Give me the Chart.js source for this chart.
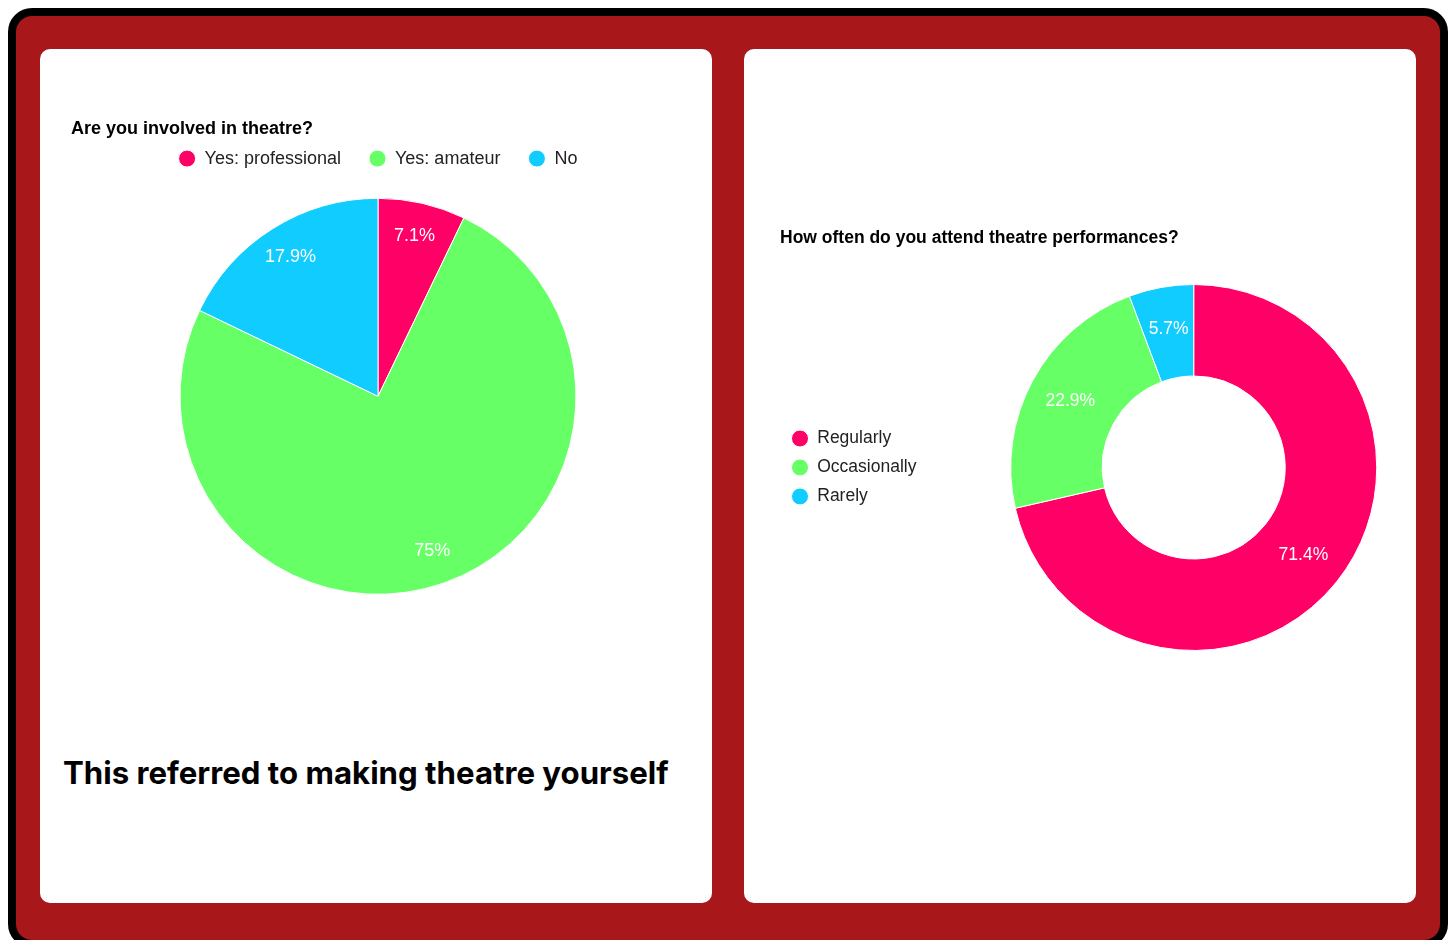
<!DOCTYPE html>
<html>
<head>
<meta charset="utf-8">
<title>Theatre survey</title>
<script src="https://cdn.jsdelivr.net/npm/chart.js@4.4.1/dist/chart.umd.min.js"></script>
<style>
    html, body { margin: 0; padding: 0; background: #fff; overflow: hidden; }
    .frame {
        position: absolute; left: 8px; top: 8px;
        width: 1440px; height: 940px; box-sizing: border-box;
        border: 8px solid #000; border-radius: 24px;
        background: #a8171a;
    }
    .card {
        position: absolute; top: 49px;
        width: 672px; height: 854px;
        background: #fff; border-radius: 10px;
    }
    #involved-chart, #attend-chart { position: absolute; top: 49px; }
    #involved-chart { left: 40px; }
    #attend-chart { left: 744px; }
    .note {
        position: absolute; left: 63px; top: 758px;
        font-family: Inter, Roboto, sans-serif; font-weight: 700;
        font-size: 31.2px; line-height: 31px; color: #000;
        white-space: nowrap;
    }
</style>
</head>
<body>
<div class="frame"></div>
<div class="card" style="left: 40px;"></div>
<div class="card" style="left: 744px;"></div>
<canvas id="involved-chart" width="672" height="566"></canvas>
<canvas id="attend-chart" width="717" height="637"></canvas>
<div class="note">This referred to making theatre yourself</div>

<script>
    "use strict";

    // Are you involved in theatre?
    var involvedLabels = ['Yes: professional', 'Yes: amateur', 'No'];
    var involvedCounts = [2, 21, 5];

    // How often do you attend theatre performances?
    var attendLabels = ['Regularly', 'Occasionally', 'Rarely'];
    var attendCounts = [25, 8, 2];

    var sliceColors = ['#ff0066', '#66ff66', '#11ccff'];

    Chart.defaults.font.family = "'Liberation Sans', Arial, sans-serif";
    Chart.defaults.color = '#222';

    // Percentage written on every slice
    var sliceLabels = {
        id: 'sliceLabels',
        afterDatasetsDraw: function (chart, args, opts) {
            var ctx = chart.ctx;
            var meta = chart.getDatasetMeta(0);
            var data = chart.data.datasets[0].data;
            var total = data.reduce(function (a, b) { return a + b; }, 0);
            ctx.save();
            ctx.fillStyle = '#fff';
            ctx.font = opts.size + "px 'Liberation Sans', Arial, sans-serif";
            ctx.textAlign = 'center';
            ctx.textBaseline = 'middle';
            meta.data.forEach(function (arc, i) {
                var p = arc.getProps(['x', 'y', 'startAngle', 'endAngle', 'innerRadius', 'outerRadius'], true);
                var mid = (p.startAngle + p.endAngle) / 2;
                var r = p.innerRadius > 0 ? (p.innerRadius + p.outerRadius) / 2 + 3 : p.outerRadius * 0.83;
                var pct = parseFloat((data[i] / total * 100).toFixed(1)) + '%';
                ctx.fillText(pct, p.x + Math.cos(mid) * r, p.y + Math.sin(mid) * r);
            });
            ctx.restore();
        }
    };

    // Pie chart
    new Chart(document.getElementById('involved-chart'), {
        type: 'pie',
        data: {
            labels: involvedLabels,
            datasets: [{
                data: involvedCounts,
                backgroundColor: sliceColors,
                borderColor: '#fff',
                borderWidth: 1
            }]
        },
        options: {
            responsive: false,
            animation: false,
            radius: 198,
            layout: { padding: { left: 31, right: 27, top: 0, bottom: 0 } },
            plugins: {
                title: {
                    display: true,
                    text: 'Are you involved in theatre?',
                    align: 'start',
                    color: '#000',
                    font: { size: 18, weight: 'bold' },
                    padding: { top: 69, bottom: -18 }
                },
                legend: {
                    position: 'top',
                    labels: {
                        usePointStyle: true,
                        pointStyle: 'circle',
                        pointStyleWidth: 17,
                        boxHeight: 12,
                        padding: 28,
                        font: { size: 18 }
                    }
                },
                tooltip: { enabled: false },
                sliceLabels: { size: 18 }
            }
        },
        plugins: [sliceLabels]
    });

    // Doughnut chart
    new Chart(document.getElementById('attend-chart'), {
        type: 'doughnut',
        data: {
            labels: attendLabels,
            datasets: [{
                data: attendCounts,
                backgroundColor: sliceColors,
                borderColor: '#fff',
                borderWidth: 1
            }]
        },
        options: {
            responsive: false,
            animation: false,
            radius: 183,
            cutout: '50%',
            layout: { padding: { left: 36, right: 0, top: 0, bottom: 0 } },
            plugins: {
                title: {
                    display: true,
                    text: 'How often do you attend theatre performances?',
                    align: 'start',
                    color: '#000',
                    font: { size: 17.5, weight: 'bold' },
                    padding: { top: 179, bottom: 0 }
                },
                legend: {
                    position: 'left',
                    fullSize: false,
                    labels: {
                        usePointStyle: true,
                        pointStyle: 'circle',
                        pointStyleWidth: 17,
                        boxHeight: 12,
                        padding: 11.5,
                        font: { size: 17.5 }
                    }
                },
                tooltip: { enabled: false },
                sliceLabels: { size: 17.5 }
            }
        },
        plugins: [sliceLabels]
    });
</script>
</body>
</html>
